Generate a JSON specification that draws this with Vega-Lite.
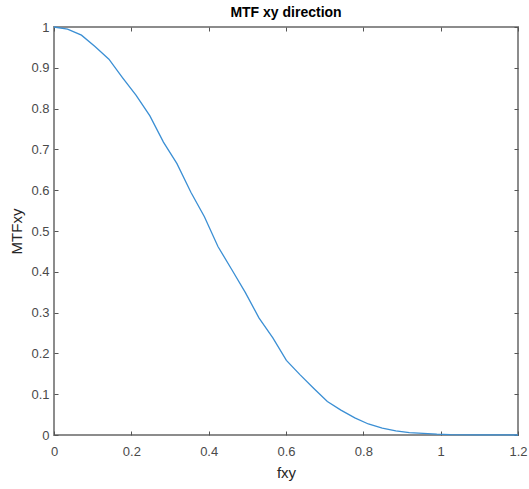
{
  "$schema": "https://vega.github.io/schema/vega-lite/v6.json",
  "width": 464,
  "height": 408,
  "autosize": {"type": "none"},
  "padding": {"left": 54, "top": 27, "right": 11, "bottom": 54},
  "background": "white",
  "title": {"text": "MTF xy direction", "font": "Liberation Sans", "fontSize": 14, "fontWeight": "bold", "color": "#000000", "anchor": "middle", "offset": 1},
  "config": {
    "view": {"stroke": "#8c8c8c", "strokeWidth": 2},
    "axis": {"labelFont": "Liberation Sans", "labelFontSize": 13, "labelColor": "#4a4a4a", "titleFont": "Liberation Sans", "titleFontSize": 15, "titleFontWeight": "normal", "titleColor": "#262626", "domain": false, "tickColor": "#555555", "tickWidth": 1, "grid": false}
  },
  "data": {"values": [
    {"fxy": 0, "mtf": 1.0},
    {"fxy": 0.035, "mtf": 0.995},
    {"fxy": 0.071, "mtf": 0.980},
    {"fxy": 0.106, "mtf": 0.952},
    {"fxy": 0.142, "mtf": 0.921},
    {"fxy": 0.177, "mtf": 0.876},
    {"fxy": 0.212, "mtf": 0.833},
    {"fxy": 0.248, "mtf": 0.782},
    {"fxy": 0.283, "mtf": 0.718},
    {"fxy": 0.318, "mtf": 0.665},
    {"fxy": 0.354, "mtf": 0.595},
    {"fxy": 0.389, "mtf": 0.535},
    {"fxy": 0.424, "mtf": 0.462},
    {"fxy": 0.460, "mtf": 0.405},
    {"fxy": 0.495, "mtf": 0.349},
    {"fxy": 0.530, "mtf": 0.287},
    {"fxy": 0.566, "mtf": 0.238},
    {"fxy": 0.601, "mtf": 0.183},
    {"fxy": 0.636, "mtf": 0.148},
    {"fxy": 0.672, "mtf": 0.114},
    {"fxy": 0.707, "mtf": 0.082},
    {"fxy": 0.742, "mtf": 0.061},
    {"fxy": 0.778, "mtf": 0.042},
    {"fxy": 0.813, "mtf": 0.027},
    {"fxy": 0.849, "mtf": 0.017},
    {"fxy": 0.884, "mtf": 0.010},
    {"fxy": 0.919, "mtf": 0.006},
    {"fxy": 0.955, "mtf": 0.004},
    {"fxy": 0.990, "mtf": 0.002},
    {"fxy": 1.025, "mtf": 0.001},
    {"fxy": 1.1, "mtf": 0.0005},
    {"fxy": 1.2, "mtf": 0.0}
  ]},
  "layer": [
    {
      "mark": {"type": "line", "color": "#3b8fd4", "strokeWidth": 1.3},
      "encoding": {
        "x": {"field": "fxy", "type": "quantitative", "scale": {"domain": [0, 1.2], "nice": false, "zero": false},
              "axis": {"title": "fxy", "values": [0, 0.2, 0.4, 0.6, 0.8, 1, 1.2], "format": "~g", "ticks": false, "labelFlush": false, "labelPadding": 10, "titlePadding": 7}},
        "y": {"field": "mtf", "type": "quantitative", "scale": {"domain": [0, 1], "nice": false},
              "axis": {"title": "MTFxy", "values": [0, 0.1, 0.2, 0.3, 0.4, 0.5, 0.6, 0.7, 0.8, 0.9, 1], "format": "~g", "ticks": false, "labelFlush": false, "labelPadding": 5, "titlePadding": 6}}
      }
    },
    {
      "mark": {"type": "line", "strokeOpacity": 0},
      "encoding": {
        "x": {"field": "fxy", "type": "quantitative", "axis": {"orient": "bottom", "offset": -4, "tickSize": 4, "title": null, "labels": false, "values": [0, 0.2, 0.4, 0.6, 0.8, 1, 1.2]}},
        "y": {"field": "mtf", "type": "quantitative", "axis": {"orient": "left", "offset": -4, "tickSize": 4, "title": null, "labels": false, "values": [0, 0.1, 0.2, 0.3, 0.4, 0.5, 0.6, 0.7, 0.8, 0.9, 1]}}
      }
    },
    {
      "mark": {"type": "line", "strokeOpacity": 0},
      "encoding": {
        "x": {"field": "fxy", "type": "quantitative", "axis": {"orient": "top", "offset": -4, "tickSize": 4, "title": null, "labels": false, "values": [0, 0.2, 0.4, 0.6, 0.8, 1, 1.2]}},
        "y": {"field": "mtf", "type": "quantitative", "axis": {"orient": "right", "offset": -4, "tickSize": 4, "title": null, "labels": false, "values": [0, 0.1, 0.2, 0.3, 0.4, 0.5, 0.6, 0.7, 0.8, 0.9, 1]}}
      }
    }
  ],
  "resolve": {"axis": {"x": "independent", "y": "independent"}}
}
